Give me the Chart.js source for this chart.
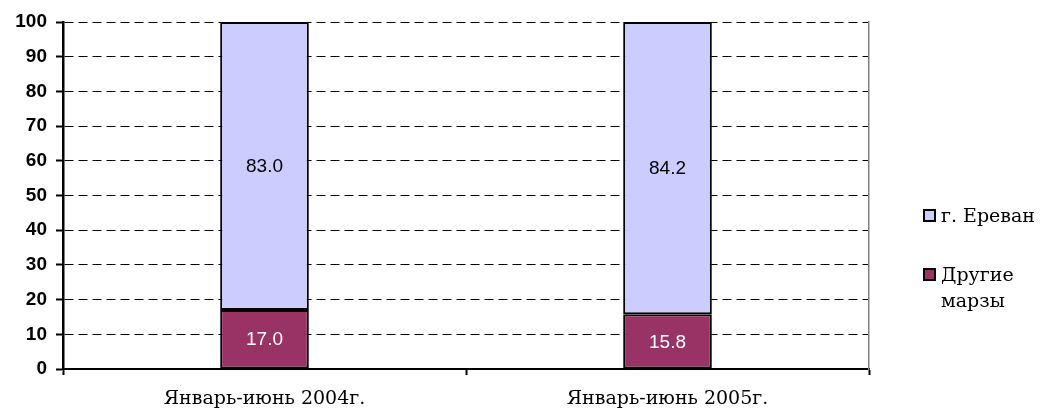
<!DOCTYPE html>
<html>
<head>
<meta charset="utf-8">
<script src="https://cdn.jsdelivr.net/npm/chart.js@4/dist/chart.umd.min.js"></script>
<style>
  html, body { margin: 0; padding: 0; background: #fff; }
  #wrap { width: 1042px; height: 411px; }
</style>
</head>
<body>
<div id="wrap"><canvas id="chart" width="1042" height="411"></canvas></div>
<script>
const categories = ['Январь-июнь 2004г.', 'Январь-июнь 2005г.'];
const otherMarzes = [17.0, 15.8];
const yerevan = [83.0, 84.2];
const seriesNames = ['Другие\nмарзы', 'г. Ереван'];

const serif = '"DejaVu Serif", serif';
const sans = '"Liberation Sans", Arial, sans-serif';

// values written in the middle of each bar segment
const barValues = {
  id: 'barValues',
  afterDatasetsDraw(chart) {
    const ctx = chart.ctx;
    ctx.save();
    ctx.font = '19px ' + sans;
    ctx.textAlign = 'center';
    ctx.textBaseline = 'middle';
    chart.data.datasets.forEach((ds, i) => {
      chart.getDatasetMeta(i).data.forEach((bar, j) => {
        const mid = (bar.y + bar.base) / 2;
        ctx.fillStyle = i === 0 ? '#ffffff' : '#000000';
        ctx.fillText(ds.data[j].toFixed(1), bar.x, mid + 1);
      });
    });
    ctx.restore();
  }
};

// legend on the right, Ереван first like the original
const sideLegend = {
  id: 'sideLegend',
  afterDraw(chart) {
    const ctx = chart.ctx;
    ctx.save();
    ctx.font = '19px ' + serif;
    ctx.textBaseline = 'alphabetic';
    const order = [1, 0];
    const tops = [210, 269];
    order.forEach((di, k) => {
      const ds = chart.data.datasets[di];
      const y = tops[k];
      ctx.fillStyle = ds.backgroundColor;
      ctx.fillRect(924, y, 11, 11);
      ctx.strokeStyle = '#000';
      ctx.lineWidth = 2;
      ctx.strokeRect(924, y, 11, 11);
      ctx.fillStyle = '#000';
      seriesNames[di].split('\n').forEach((ln, li) => {
        ctx.fillText(ln, 941, y + 12 + li * 26);
      });
    });
    ctx.restore();
  }
};

new Chart(document.getElementById('chart'), {
  type: 'bar',
  data: {
    labels: categories,
    datasets: [
      {
        label: 'Другие марзы',
        data: otherMarzes,
        backgroundColor: '#993366',
        borderColor: '#000000',
        borderWidth: 2,
        borderSkipped: false,
        categoryPercentage: 1,
        barPercentage: 0.22
      },
      {
        label: 'г. Ереван',
        data: yerevan,
        backgroundColor: '#ccccff',
        borderColor: '#000000',
        borderWidth: 2,
        borderSkipped: false,
        categoryPercentage: 1,
        barPercentage: 0.22
      }
    ]
  },
  options: {
    responsive: false,
    animation: false,
    layout: { padding: { top: 22, right: 172, left: 0, bottom: 0 } },
    plugins: {
      legend: { display: false },
      tooltip: { enabled: false }
    },
    scales: {
      x: {
        stacked: true,
        afterFit(scale) { scale.height = 42; },
        grid: {
          offset: true,
          drawOnChartArea: false,
          drawTicks: true,
          tickLength: 6,
          tickColor: '#000',
          tickWidth: 2
        },
        border: { display: true, color: '#000', width: 2 },
        ticks: {
          color: '#000',
          font: { family: serif, size: 19 },
          padding: 13
        }
      },
      y: {
        stacked: true,
        min: 0,
        max: 100,
        afterFit(scale) { scale.width = 63; },
        ticks: {
          stepSize: 10,
          color: '#000',
          font: { family: sans, size: 19, weight: 'bold' },
          padding: 9
        },
        grid: {
          color: '#000',
          lineWidth: 1,
          drawTicks: true,
          tickLength: 7,
          tickColor: '#000',
          tickWidth: 2,
          tickBorderDash: [],
          z: -1
        },
        border: { display: true, color: '#000', width: 2.5, dash: [9, 5] }
      },
      y2: {
        position: 'right',
        min: 0,
        max: 100,
        afterFit(scale) { scale.width = 1; },
        ticks: { display: false },
        grid: { drawOnChartArea: false, drawTicks: false },
        border: { display: true, color: '#808080', width: 1.5, dash: [6, 6] }
      }
    }
  },
  plugins: [barValues, sideLegend]
});
</script>
</body>
</html>
